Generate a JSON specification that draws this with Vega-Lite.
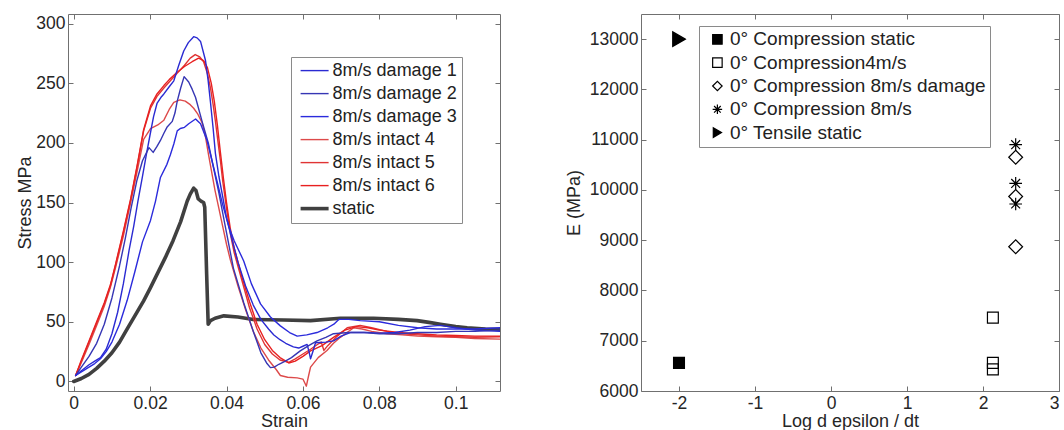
{
  "$schema": "https://vega.github.io/schema/vega-lite/v6.json",
  "padding": {"left": 16, "top": 13, "right": 0, "bottom": 0},
  "spacing": 63,
  "resolve": {
    "scale": {"color": "independent", "strokeWidth": "independent", "shape": "independent", "fill": "independent", "stroke": "independent"},
    "legend": {"color": "independent", "strokeWidth": "independent", "shape": "independent", "fill": "independent", "stroke": "independent"}
  },
  "config": {
    "font": "Liberation Sans",
    "view": {"stroke": "#707070", "strokeWidth": 1},
    "axis": {"domain": false, "grid": false, "tickSize": -5, "tickColor": "#707070", "labelFontSize": 17.5, "labelColor": "#262626", "titleFontSize": 18, "titleColor": "#262626", "titleFontWeight": "normal", "labelPadding": 8, "titlePadding": 1, "labelFont": "Liberation Sans", "titleFont": "Liberation Sans"},
    "legend": {"labelFont": "Liberation Sans", "labelLimit": 500}
  },
  "datasets": {
    "curves": [
      {"s":"static","x":0,"y":0},{"s":"static","x":0.002,"y":2.5},{"s":"static","x":0.004,"y":6},{"s":"static","x":0.006,"y":11},{"s":"static","x":0.008,"y":17},{"s":"static","x":0.010,"y":24},{"s":"static","x":0.012,"y":33},{"s":"static","x":0.014,"y":44},{"s":"static","x":0.016,"y":55},{"s":"static","x":0.0183,"y":67.5},{"s":"static","x":0.020,"y":78},{"s":"static","x":0.022,"y":91},{"s":"static","x":0.024,"y":104},{"s":"static","x":0.026,"y":118},{"s":"static","x":0.028,"y":134},{"s":"static","x":0.0297,"y":151},{"s":"static","x":0.0305,"y":157},{"s":"static","x":0.0314,"y":162},{"s":"static","x":0.032,"y":160},{"s":"static","x":0.0326,"y":153},{"s":"static","x":0.0334,"y":151},{"s":"static","x":0.034,"y":150},{"s":"static","x":0.0343,"y":146},{"s":"static","x":0.0348,"y":90},{"s":"static","x":0.0352,"y":48},{"s":"static","x":0.0358,"y":51},{"s":"static","x":0.037,"y":53},{"s":"static","x":0.0393,"y":55},{"s":"static","x":0.043,"y":54},{"s":"static","x":0.047,"y":52},{"s":"static","x":0.055,"y":51.5},{"s":"static","x":0.062,"y":51},{"s":"static","x":0.0698,"y":53},{"s":"static","x":0.0785,"y":53},{"s":"static","x":0.085,"y":52},{"s":"static","x":0.0899,"y":51},{"s":"static","x":0.093,"y":49.5},{"s":"static","x":0.096,"y":48},{"s":"static","x":0.100,"y":46},{"s":"static","x":0.103,"y":45},{"s":"static","x":0.1078,"y":44},{"s":"static","x":0.1116,"y":43.5},

      {"s":"8m/s intact 4","x":0.0005,"y":5},{"s":"8m/s intact 4","x":0.002,"y":16},{"s":"8m/s intact 4","x":0.004,"y":31},{"s":"8m/s intact 4","x":0.006,"y":47},{"s":"8m/s intact 4","x":0.008,"y":63},{"s":"8m/s intact 4","x":0.0096,"y":79},{"s":"8m/s intact 4","x":0.011,"y":96},{"s":"8m/s intact 4","x":0.013,"y":122},{"s":"8m/s intact 4","x":0.0149,"y":150},{"s":"8m/s intact 4","x":0.0166,"y":176},{"s":"8m/s intact 4","x":0.0183,"y":203},{"s":"8m/s intact 4","x":0.0201,"y":212},{"s":"8m/s intact 4","x":0.022,"y":215},{"s":"8m/s intact 4","x":0.0236,"y":219},{"s":"8m/s intact 4","x":0.025,"y":228},{"s":"8m/s intact 4","x":0.0262,"y":234},{"s":"8m/s intact 4","x":0.0278,"y":236},{"s":"8m/s intact 4","x":0.0292,"y":235},{"s":"8m/s intact 4","x":0.0305,"y":232},{"s":"8m/s intact 4","x":0.0314,"y":229},{"s":"8m/s intact 4","x":0.0325,"y":224},{"s":"8m/s intact 4","x":0.0336,"y":217},{"s":"8m/s intact 4","x":0.0345,"y":205},{"s":"8m/s intact 4","x":0.0353,"y":190},{"s":"8m/s intact 4","x":0.0362,"y":174},{"s":"8m/s intact 4","x":0.037,"y":160},{"s":"8m/s intact 4","x":0.038,"y":145},{"s":"8m/s intact 4","x":0.039,"y":130},{"s":"8m/s intact 4","x":0.040,"y":115},{"s":"8m/s intact 4","x":0.041,"y":102},{"s":"8m/s intact 4","x":0.043,"y":80},{"s":"8m/s intact 4","x":0.045,"y":60},{"s":"8m/s intact 4","x":0.047,"y":42},{"s":"8m/s intact 4","x":0.049,"y":28},{"s":"8m/s intact 4","x":0.051,"y":18},{"s":"8m/s intact 4","x":0.053,"y":10},{"s":"8m/s intact 4","x":0.0541,"y":5},{"s":"8m/s intact 4","x":0.056,"y":3.5},{"s":"8m/s intact 4","x":0.0585,"y":3},{"s":"8m/s intact 4","x":0.060,"y":2},{"s":"8m/s intact 4","x":0.0609,"y":-4},{"s":"8m/s intact 4","x":0.0615,"y":5},{"s":"8m/s intact 4","x":0.062,"y":12},{"s":"8m/s intact 4","x":0.064,"y":20},{"s":"8m/s intact 4","x":0.0663,"y":26},{"s":"8m/s intact 4","x":0.068,"y":32},{"s":"8m/s intact 4","x":0.0698,"y":37},{"s":"8m/s intact 4","x":0.0733,"y":45},{"s":"8m/s intact 4","x":0.0755,"y":44},{"s":"8m/s intact 4","x":0.078,"y":42},{"s":"8m/s intact 4","x":0.082,"y":40},{"s":"8m/s intact 4","x":0.086,"y":39},{"s":"8m/s intact 4","x":0.09,"y":38},{"s":"8m/s intact 4","x":0.095,"y":37.5},{"s":"8m/s intact 4","x":0.1,"y":37},{"s":"8m/s intact 4","x":0.105,"y":36},{"s":"8m/s intact 4","x":0.1116,"y":35.5},

      {"s":"8m/s intact 5","x":0.0005,"y":5},{"s":"8m/s intact 5","x":0.002,"y":17},{"s":"8m/s intact 5","x":0.004,"y":33},{"s":"8m/s intact 5","x":0.006,"y":49},{"s":"8m/s intact 5","x":0.008,"y":65},{"s":"8m/s intact 5","x":0.0096,"y":80},{"s":"8m/s intact 5","x":0.011,"y":98},{"s":"8m/s intact 5","x":0.013,"y":125},{"s":"8m/s intact 5","x":0.0149,"y":152},{"s":"8m/s intact 5","x":0.0166,"y":180},{"s":"8m/s intact 5","x":0.0183,"y":210},{"s":"8m/s intact 5","x":0.0201,"y":229},{"s":"8m/s intact 5","x":0.0218,"y":239},{"s":"8m/s intact 5","x":0.0236,"y":246},{"s":"8m/s intact 5","x":0.025,"y":251},{"s":"8m/s intact 5","x":0.027,"y":258},{"s":"8m/s intact 5","x":0.029,"y":265},{"s":"8m/s intact 5","x":0.0305,"y":271},{"s":"8m/s intact 5","x":0.0318,"y":274},{"s":"8m/s intact 5","x":0.033,"y":272},{"s":"8m/s intact 5","x":0.034,"y":268},{"s":"8m/s intact 5","x":0.035,"y":258},{"s":"8m/s intact 5","x":0.0358,"y":246},{"s":"8m/s intact 5","x":0.0365,"y":232},{"s":"8m/s intact 5","x":0.0371,"y":218},{"s":"8m/s intact 5","x":0.0378,"y":200},{"s":"8m/s intact 5","x":0.0384,"y":185},{"s":"8m/s intact 5","x":0.039,"y":168},{"s":"8m/s intact 5","x":0.040,"y":145},{"s":"8m/s intact 5","x":0.041,"y":124},{"s":"8m/s intact 5","x":0.042,"y":108},{"s":"8m/s intact 5","x":0.044,"y":85},{"s":"8m/s intact 5","x":0.046,"y":62},{"s":"8m/s intact 5","x":0.048,"y":44},{"s":"8m/s intact 5","x":0.050,"y":31},{"s":"8m/s intact 5","x":0.052,"y":23},{"s":"8m/s intact 5","x":0.054,"y":18},{"s":"8m/s intact 5","x":0.0563,"y":16},{"s":"8m/s intact 5","x":0.058,"y":19},{"s":"8m/s intact 5","x":0.060,"y":23},{"s":"8m/s intact 5","x":0.062,"y":27},{"s":"8m/s intact 5","x":0.0638,"y":31},{"s":"8m/s intact 5","x":0.0648,"y":33},{"s":"8m/s intact 5","x":0.0655,"y":26},{"s":"8m/s intact 5","x":0.0665,"y":30},{"s":"8m/s intact 5","x":0.069,"y":38},{"s":"8m/s intact 5","x":0.0716,"y":45},{"s":"8m/s intact 5","x":0.075,"y":47},{"s":"8m/s intact 5","x":0.078,"y":45},{"s":"8m/s intact 5","x":0.082,"y":42},{"s":"8m/s intact 5","x":0.086,"y":40},{"s":"8m/s intact 5","x":0.09,"y":39},{"s":"8m/s intact 5","x":0.095,"y":38},{"s":"8m/s intact 5","x":0.1,"y":37.5},{"s":"8m/s intact 5","x":0.105,"y":37},{"s":"8m/s intact 5","x":0.1116,"y":37.5},

      {"s":"8m/s intact 6","x":0.0005,"y":5},{"s":"8m/s intact 6","x":0.002,"y":18},{"s":"8m/s intact 6","x":0.004,"y":34},{"s":"8m/s intact 6","x":0.006,"y":50},{"s":"8m/s intact 6","x":0.008,"y":66},{"s":"8m/s intact 6","x":0.0096,"y":81},{"s":"8m/s intact 6","x":0.011,"y":99},{"s":"8m/s intact 6","x":0.013,"y":126},{"s":"8m/s intact 6","x":0.0149,"y":153},{"s":"8m/s intact 6","x":0.0166,"y":181},{"s":"8m/s intact 6","x":0.0183,"y":211},{"s":"8m/s intact 6","x":0.0201,"y":231},{"s":"8m/s intact 6","x":0.0218,"y":241},{"s":"8m/s intact 6","x":0.0236,"y":248},{"s":"8m/s intact 6","x":0.025,"y":253},{"s":"8m/s intact 6","x":0.027,"y":259},{"s":"8m/s intact 6","x":0.029,"y":264},{"s":"8m/s intact 6","x":0.031,"y":268},{"s":"8m/s intact 6","x":0.0327,"y":271},{"s":"8m/s intact 6","x":0.034,"y":269},{"s":"8m/s intact 6","x":0.035,"y":263},{"s":"8m/s intact 6","x":0.036,"y":250},{"s":"8m/s intact 6","x":0.0368,"y":235},{"s":"8m/s intact 6","x":0.0376,"y":215},{"s":"8m/s intact 6","x":0.0384,"y":192},{"s":"8m/s intact 6","x":0.0392,"y":170},{"s":"8m/s intact 6","x":0.040,"y":150},{"s":"8m/s intact 6","x":0.041,"y":128},{"s":"8m/s intact 6","x":0.042,"y":112},{"s":"8m/s intact 6","x":0.044,"y":88},{"s":"8m/s intact 6","x":0.046,"y":67},{"s":"8m/s intact 6","x":0.048,"y":48},{"s":"8m/s intact 6","x":0.050,"y":35},{"s":"8m/s intact 6","x":0.052,"y":26},{"s":"8m/s intact 6","x":0.054,"y":20},{"s":"8m/s intact 6","x":0.0563,"y":15.5},{"s":"8m/s intact 6","x":0.058,"y":17},{"s":"8m/s intact 6","x":0.060,"y":21},{"s":"8m/s intact 6","x":0.062,"y":25.6},{"s":"8m/s intact 6","x":0.065,"y":30},{"s":"8m/s intact 6","x":0.068,"y":37},{"s":"8m/s intact 6","x":0.071,"y":43},{"s":"8m/s intact 6","x":0.074,"y":46},{"s":"8m/s intact 6","x":0.077,"y":45},{"s":"8m/s intact 6","x":0.08,"y":43},{"s":"8m/s intact 6","x":0.085,"y":41},{"s":"8m/s intact 6","x":0.09,"y":40},{"s":"8m/s intact 6","x":0.095,"y":39},{"s":"8m/s intact 6","x":0.1,"y":38.5},{"s":"8m/s intact 6","x":0.105,"y":38},{"s":"8m/s intact 6","x":0.1116,"y":38},

      {"s":"8m/s damage 1","x":0.0005,"y":5},{"s":"8m/s damage 1","x":0.002,"y":9},{"s":"8m/s damage 1","x":0.004,"y":14},{"s":"8m/s damage 1","x":0.0055,"y":17},{"s":"8m/s damage 1","x":0.007,"y":20},{"s":"8m/s damage 1","x":0.0085,"y":27},{"s":"8m/s damage 1","x":0.010,"y":40},{"s":"8m/s damage 1","x":0.0115,"y":58},{"s":"8m/s damage 1","x":0.013,"y":82},{"s":"8m/s damage 1","x":0.0145,"y":110},{"s":"8m/s damage 1","x":0.0157,"y":130},{"s":"8m/s damage 1","x":0.0168,"y":151},{"s":"8m/s damage 1","x":0.018,"y":172},{"s":"8m/s damage 1","x":0.019,"y":190},{"s":"8m/s damage 1","x":0.020,"y":207},{"s":"8m/s damage 1","x":0.0209,"y":222},{"s":"8m/s damage 1","x":0.0218,"y":233},{"s":"8m/s damage 1","x":0.0228,"y":238},{"s":"8m/s damage 1","x":0.0236,"y":241},{"s":"8m/s damage 1","x":0.025,"y":247},{"s":"8m/s damage 1","x":0.0262,"y":252},{"s":"8m/s damage 1","x":0.0275,"y":265},{"s":"8m/s damage 1","x":0.0288,"y":277},{"s":"8m/s damage 1","x":0.030,"y":284},{"s":"8m/s damage 1","x":0.0314,"y":289},{"s":"8m/s damage 1","x":0.0323,"y":288},{"s":"8m/s damage 1","x":0.0332,"y":285},{"s":"8m/s damage 1","x":0.0345,"y":269},{"s":"8m/s damage 1","x":0.0352,"y":252},{"s":"8m/s damage 1","x":0.0358,"y":234},{"s":"8m/s damage 1","x":0.0365,"y":212},{"s":"8m/s damage 1","x":0.0371,"y":191},{"s":"8m/s damage 1","x":0.038,"y":172},{"s":"8m/s damage 1","x":0.039,"y":155},{"s":"8m/s damage 1","x":0.040,"y":137},{"s":"8m/s damage 1","x":0.0415,"y":118},{"s":"8m/s damage 1","x":0.043,"y":100},{"s":"8m/s damage 1","x":0.045,"y":80},{"s":"8m/s damage 1","x":0.047,"y":64},{"s":"8m/s damage 1","x":0.049,"y":52},{"s":"8m/s damage 1","x":0.051,"y":44},{"s":"8m/s damage 1","x":0.0524,"y":39},{"s":"8m/s damage 1","x":0.054,"y":35},{"s":"8m/s damage 1","x":0.0555,"y":32},{"s":"8m/s damage 1","x":0.0575,"y":29},{"s":"8m/s damage 1","x":0.0589,"y":28},{"s":"8m/s damage 1","x":0.060,"y":29.5},{"s":"8m/s damage 1","x":0.0611,"y":31},{"s":"8m/s damage 1","x":0.0616,"y":25},{"s":"8m/s damage 1","x":0.0620,"y":19},{"s":"8m/s damage 1","x":0.0627,"y":26},{"s":"8m/s damage 1","x":0.0633,"y":32.5},{"s":"8m/s damage 1","x":0.066,"y":33},{"s":"8m/s damage 1","x":0.068,"y":34},{"s":"8m/s damage 1","x":0.070,"y":38},{"s":"8m/s damage 1","x":0.0724,"y":41},{"s":"8m/s damage 1","x":0.0768,"y":41},{"s":"8m/s damage 1","x":0.080,"y":40.5},{"s":"8m/s damage 1","x":0.084,"y":41},{"s":"8m/s damage 1","x":0.088,"y":43},{"s":"8m/s damage 1","x":0.092,"y":46},{"s":"8m/s damage 1","x":0.096,"y":47},{"s":"8m/s damage 1","x":0.1,"y":45},{"s":"8m/s damage 1","x":0.105,"y":43},{"s":"8m/s damage 1","x":0.1116,"y":42},

      {"s":"8m/s damage 2","x":0.0005,"y":5},{"s":"8m/s damage 2","x":0.002,"y":12},{"s":"8m/s damage 2","x":0.004,"y":21},{"s":"8m/s damage 2","x":0.006,"y":32},{"s":"8m/s damage 2","x":0.008,"y":48},{"s":"8m/s damage 2","x":0.010,"y":70},{"s":"8m/s damage 2","x":0.012,"y":97},{"s":"8m/s damage 2","x":0.0135,"y":120},{"s":"8m/s damage 2","x":0.015,"y":145},{"s":"8m/s damage 2","x":0.0165,"y":168},{"s":"8m/s damage 2","x":0.018,"y":185},{"s":"8m/s damage 2","x":0.0197,"y":196},{"s":"8m/s damage 2","x":0.0208,"y":192},{"s":"8m/s damage 2","x":0.0218,"y":197},{"s":"8m/s damage 2","x":0.0227,"y":202},{"s":"8m/s damage 2","x":0.0236,"y":208},{"s":"8m/s damage 2","x":0.0244,"y":213},{"s":"8m/s damage 2","x":0.0258,"y":218},{"s":"8m/s damage 2","x":0.0265,"y":225},{"s":"8m/s damage 2","x":0.0271,"y":235},{"s":"8m/s damage 2","x":0.028,"y":246},{"s":"8m/s damage 2","x":0.0289,"y":255.5},{"s":"8m/s damage 2","x":0.0301,"y":251},{"s":"8m/s damage 2","x":0.031,"y":245},{"s":"8m/s damage 2","x":0.0319,"y":238},{"s":"8m/s damage 2","x":0.0336,"y":218},{"s":"8m/s damage 2","x":0.0353,"y":199},{"s":"8m/s damage 2","x":0.0366,"y":179},{"s":"8m/s damage 2","x":0.038,"y":158},{"s":"8m/s damage 2","x":0.0395,"y":133},{"s":"8m/s damage 2","x":0.0418,"y":95},{"s":"8m/s damage 2","x":0.0445,"y":66},{"s":"8m/s damage 2","x":0.047,"y":42},{"s":"8m/s damage 2","x":0.049,"y":24},{"s":"8m/s damage 2","x":0.0506,"y":15},{"s":"8m/s damage 2","x":0.0515,"y":11.6},{"s":"8m/s damage 2","x":0.0525,"y":12},{"s":"8m/s damage 2","x":0.0537,"y":14.4},{"s":"8m/s damage 2","x":0.0554,"y":17},{"s":"8m/s damage 2","x":0.057,"y":20},{"s":"8m/s damage 2","x":0.0593,"y":25.6},{"s":"8m/s damage 2","x":0.0615,"y":30},{"s":"8m/s damage 2","x":0.0637,"y":34},{"s":"8m/s damage 2","x":0.066,"y":37},{"s":"8m/s damage 2","x":0.068,"y":40},{"s":"8m/s damage 2","x":0.072,"y":41},{"s":"8m/s damage 2","x":0.076,"y":41},{"s":"8m/s damage 2","x":0.08,"y":40},{"s":"8m/s damage 2","x":0.085,"y":40},{"s":"8m/s damage 2","x":0.09,"y":41},{"s":"8m/s damage 2","x":0.095,"y":41},{"s":"8m/s damage 2","x":0.1,"y":42},{"s":"8m/s damage 2","x":0.105,"y":42},{"s":"8m/s damage 2","x":0.1116,"y":43},

      {"s":"8m/s damage 3","x":0.0005,"y":5},{"s":"8m/s damage 3","x":0.002,"y":8},{"s":"8m/s damage 3","x":0.004,"y":12},{"s":"8m/s damage 3","x":0.0055,"y":15},{"s":"8m/s damage 3","x":0.007,"y":19},{"s":"8m/s damage 3","x":0.0085,"y":25},{"s":"8m/s damage 3","x":0.010,"y":33},{"s":"8m/s damage 3","x":0.012,"y":48},{"s":"8m/s damage 3","x":0.014,"y":68},{"s":"8m/s damage 3","x":0.016,"y":92},{"s":"8m/s damage 3","x":0.018,"y":117},{"s":"8m/s damage 3","x":0.0201,"y":135},{"s":"8m/s damage 3","x":0.0214,"y":151},{"s":"8m/s damage 3","x":0.0227,"y":171},{"s":"8m/s damage 3","x":0.0244,"y":182},{"s":"8m/s damage 3","x":0.0253,"y":190},{"s":"8m/s damage 3","x":0.0262,"y":199},{"s":"8m/s damage 3","x":0.0271,"y":210},{"s":"8m/s damage 3","x":0.0279,"y":212},{"s":"8m/s damage 3","x":0.029,"y":213},{"s":"8m/s damage 3","x":0.0301,"y":216},{"s":"8m/s damage 3","x":0.0319,"y":220},{"s":"8m/s damage 3","x":0.0332,"y":216},{"s":"8m/s damage 3","x":0.0349,"y":202},{"s":"8m/s damage 3","x":0.0362,"y":185},{"s":"8m/s damage 3","x":0.0375,"y":168},{"s":"8m/s damage 3","x":0.039,"y":148},{"s":"8m/s damage 3","x":0.0407,"y":129},{"s":"8m/s damage 3","x":0.042,"y":118},{"s":"8m/s damage 3","x":0.0445,"y":101},{"s":"8m/s damage 3","x":0.0465,"y":82},{"s":"8m/s damage 3","x":0.0489,"y":65},{"s":"8m/s damage 3","x":0.0515,"y":54},{"s":"8m/s damage 3","x":0.0541,"y":46.6},{"s":"8m/s damage 3","x":0.0565,"y":41},{"s":"8m/s damage 3","x":0.0585,"y":38},{"s":"8m/s damage 3","x":0.061,"y":39},{"s":"8m/s damage 3","x":0.0637,"y":41},{"s":"8m/s damage 3","x":0.0665,"y":45},{"s":"8m/s damage 3","x":0.0681,"y":48},{"s":"8m/s damage 3","x":0.0694,"y":52},{"s":"8m/s damage 3","x":0.072,"y":52},{"s":"8m/s damage 3","x":0.075,"y":51},{"s":"8m/s damage 3","x":0.08,"y":50},{"s":"8m/s damage 3","x":0.085,"y":47},{"s":"8m/s damage 3","x":0.09,"y":45},{"s":"8m/s damage 3","x":0.095,"y":44},{"s":"8m/s damage 3","x":0.1,"y":44},{"s":"8m/s damage 3","x":0.105,"y":44},{"s":"8m/s damage 3","x":0.1116,"y":45}
    ],
    "moduli": [
      {"test":"0° Compression static","rate":-2,"E":6560},
      {"test":"0° Compression4m/s","rate":2.13,"E":7460},
      {"test":"0° Compression4m/s","rate":2.13,"E":6560},
      {"test":"0° Compression4m/s","rate":2.13,"E":6430},
      {"test":"0° Compression 8m/s damage","rate":2.43,"E":10650},
      {"test":"0° Compression 8m/s damage","rate":2.43,"E":9870},
      {"test":"0° Compression 8m/s damage","rate":2.43,"E":8870},
      {"test":"0° Compression 8m/s","rate":2.43,"E":10900},
      {"test":"0° Compression 8m/s","rate":2.43,"E":10130},
      {"test":"0° Compression 8m/s","rate":2.43,"E":9720},
      {"test":"0° Tensile static","rate":-2,"E":13000}
    ]
  },
  "hconcat": [
    {
      "width": 432,
      "height": 377,
      "layer": [
        {
          "data": {"name": "curves"},
          "mark": {"type": "line", "strokeJoin": "round", "strokeCap": "round", "clip": true},
          "encoding": {
            "x": {"field": "x", "type": "quantitative", "scale": {"domain": [-0.0015, 0.1116], "nice": false, "zero": false},
                  "axis": {"orient": "bottom", "values": [0, 0.02, 0.04, 0.06, 0.08, 0.1], "format": ".2~f", "title": "Strain"}},
            "y": {"field": "y", "type": "quantitative", "scale": {"domain": [-8, 308], "nice": false, "zero": false},
                  "axis": {"orient": "left", "values": [0, 50, 100, 150, 200, 250, 300], "title": "Stress MPa"}},
            "color": {"field": "s", "type": "nominal",
                      "scale": {"domain": ["8m/s damage 1", "8m/s damage 2", "8m/s damage 3", "8m/s intact 4", "8m/s intact 5", "8m/s intact 6", "static"],
                                "range": ["#2a2ad2", "#3636b4", "#2b2bdc", "#dd4a4a", "#e03434", "#e82020", "#404040"]},
                      "legend": {"title": null, "orient": "none", "legendX": 223, "legendY": 43, "labelFontSize": 18, "labelColor": "#222222", "fillColor": "white", "strokeColor": "#8a8a8a", "padding": 4.6, "rowPadding": 5, "symbolType": "M-2.8,0H2.8", "symbolSize": 100, "symbolOffset": 10, "labelOffset": 9}},
            "strokeWidth": {"field": "s", "type": "nominal",
                      "scale": {"type": "ordinal", "domain": ["8m/s damage 1", "8m/s damage 2", "8m/s damage 3", "8m/s intact 4", "8m/s intact 5", "8m/s intact 6", "static"],
                                "range": [1.4, 1.4, 1.4, 1.4, 1.4, 1.4, 3.6]},
                      "legend": {"title": null, "orient": "none", "legendX": 223, "legendY": 43, "labelFontSize": 18, "labelColor": "#222222", "fillColor": "white", "strokeColor": "#8a8a8a", "padding": 4.6, "rowPadding": 5, "symbolType": "M-2.8,0H2.8", "symbolSize": 100, "symbolOffset": 10, "labelOffset": 9}}
          }
        },
        {
          "data": {"values": [{}]},
          "mark": {"type": "point", "opacity": 0},
          "encoding": {
            "x": {"datum": 0.05, "type": "quantitative", "axis": {"orient": "top", "values": [0, 0.02, 0.04, 0.06, 0.08, 0.1], "labels": false, "title": null}},
            "y": {"datum": 150, "type": "quantitative", "axis": {"orient": "right", "values": [0, 50, 100, 150, 200, 250, 300], "labels": false, "title": null}}
          }
        }
      ],
      "resolve": {"axis": {"x": "independent", "y": "independent"}}
    },
    {
      "width": 418,
      "height": 377,
      "encoding": {
        "x": {"field": "rate", "type": "quantitative", "scale": {"domain": [-2.5, 3], "nice": false, "zero": false}, "axis": null},
        "y": {"field": "E", "type": "quantitative", "scale": {"domain": [6000, 13500], "nice": false, "zero": false}, "axis": null},
        "shape": {"field": "test", "type": "nominal",
                  "scale": {"domain": ["0° Compression static", "0° Compression4m/s", "0° Compression 8m/s damage", "0° Compression 8m/s", "0° Tensile static"],
                            "range": ["square", "square", "diamond", "M-1,0H1M0,-1V1M-0.7,-0.7L0.7,0.7M-0.7,0.7L0.7,-0.7", "triangle-right"]},
                  "legend": {"title": null, "orient": "none", "legendX": 58, "legendY": 12, "labelFontSize": 19, "labelColor": "#222222", "fillColor": "white", "strokeColor": "#8a8a8a", "padding": 3.9, "rowPadding": 3.3, "symbolSize": 90, "symbolStrokeWidth": 1.2, "symbolOffset": 5, "labelOffset": 3}},
        "fill": {"field": "test", "type": "nominal",
                 "scale": {"domain": ["0° Compression static", "0° Compression4m/s", "0° Compression 8m/s damage", "0° Compression 8m/s", "0° Tensile static"],
                           "range": ["black", "transparent", "transparent", "transparent", "black"]},
                 "legend": {"title": null, "orient": "none", "legendX": 58, "legendY": 12, "labelFontSize": 19, "labelColor": "#222222", "fillColor": "white", "strokeColor": "#8a8a8a", "padding": 3.9, "rowPadding": 3.3, "symbolSize": 90, "symbolStrokeWidth": 1.2, "symbolOffset": 5, "labelOffset": 3}},
        "stroke": {"field": "test", "type": "nominal",
                 "scale": {"domain": ["0° Compression static", "0° Compression4m/s", "0° Compression 8m/s damage", "0° Compression 8m/s", "0° Tensile static"],
                           "range": ["black", "black", "black", "black", "black"]},
                 "legend": {"title": null, "orient": "none", "legendX": 58, "legendY": 12, "labelFontSize": 19, "labelColor": "#222222", "fillColor": "white", "strokeColor": "#8a8a8a", "padding": 3.9, "rowPadding": 3.3, "symbolSize": 90, "symbolStrokeWidth": 1.2, "symbolOffset": 5, "labelOffset": 3}}
      },
      "layer": [
        {
          "data": {"name": "moduli"},
          "transform": [{"filter": {"field": "test", "oneOf": ["0° Compression static", "0° Compression4m/s"]}}],
          "mark": {"type": "point", "strokeWidth": 1.2, "opacity": 1, "size": 118},
          "encoding": {
            "x": {"field": "rate", "type": "quantitative", "scale": {"domain": [-2.5, 3], "nice": false, "zero": false},
                  "axis": {"orient": "bottom", "values": [-2, -1, 0, 1, 2, 3], "labelExpr": "'' + datum.value", "title": "Log d epsilon / dt"}},
            "y": {"field": "E", "type": "quantitative", "scale": {"domain": [6000, 13500], "nice": false, "zero": false},
                  "axis": {"orient": "left", "values": [6000, 7000, 8000, 9000, 10000, 11000, 12000, 13000], "format": "d", "title": "E (MPa)", "titlePadding": 6}}
          }
        },
        {
          "data": {"name": "moduli"},
          "transform": [{"filter": {"field": "test", "equal": "0° Compression 8m/s damage"}}],
          "mark": {"type": "point", "strokeWidth": 1.2, "opacity": 1, "size": 190}
        },
        {
          "data": {"name": "moduli"},
          "transform": [{"filter": {"field": "test", "equal": "0° Compression 8m/s"}}],
          "mark": {"type": "point", "strokeWidth": 1.2, "opacity": 1, "size": 160}
        },
        {
          "data": {"name": "moduli"},
          "transform": [{"filter": {"field": "test", "equal": "0° Tensile static"}}],
          "mark": {"type": "point", "strokeWidth": 1.2, "opacity": 1, "size": 210}
        },
        {
          "data": {"name": "moduli"},
          "transform": [{"filter": {"field": "test", "equal": "0° Tensile static"}}],
          "mark": {"type": "point", "opacity": 0},
          "encoding": {
            "x": {"field": "rate", "type": "quantitative", "axis": {"orient": "top", "values": [-2, -1, 0, 1, 2, 3], "labels": false, "title": null}},
            "y": {"field": "E", "type": "quantitative", "axis": {"orient": "right", "values": [6000, 7000, 8000, 9000, 10000, 11000, 12000, 13000], "labels": false, "title": null}}
          }
        }
      ],
      "resolve": {"axis": {"x": "independent", "y": "independent"}}
    }
  ]
}
